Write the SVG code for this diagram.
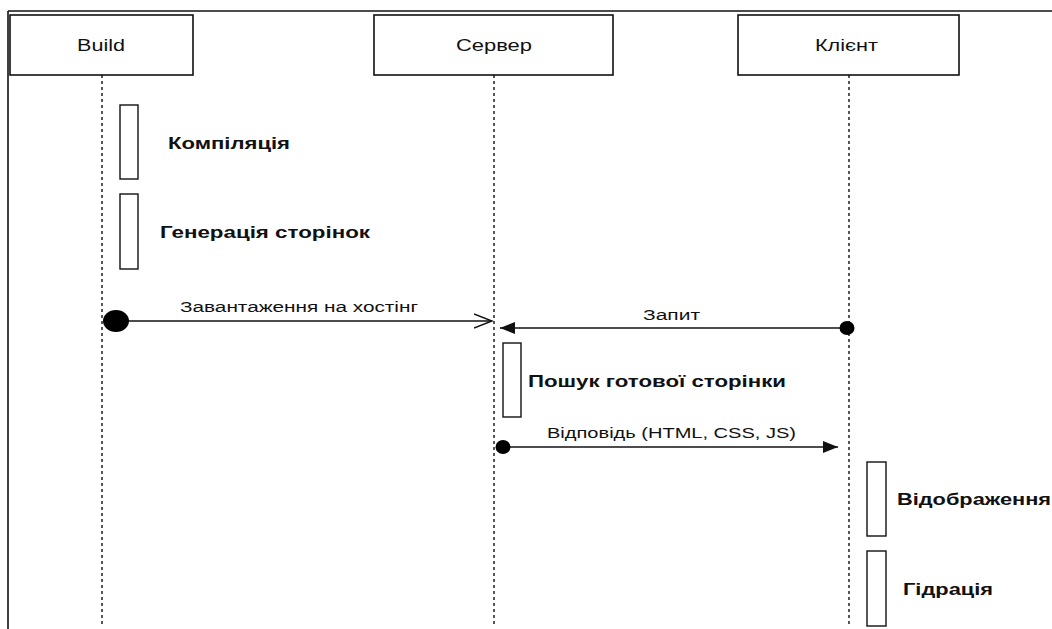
<svg xmlns="http://www.w3.org/2000/svg" width="1052" height="629" viewBox="0 0 1052 629">
<defs>
<style>
.frame{stroke:#111;stroke-width:1.6;fill:none}
.box{fill:#fff;stroke:#111;stroke-width:1.6}
.act{fill:#fff;stroke:#111;stroke-width:1.4}
.life{stroke:#111;stroke-width:1.4;stroke-dasharray:3 3;fill:none}
.msg{stroke:#111;stroke-width:1.4;fill:none}
.t{font-family:"Liberation Sans",Arial,sans-serif;font-size:17px;fill:#111}
.b{font-family:"Liberation Sans",Arial,sans-serif;font-size:17px;font-weight:bold;fill:#111}
.m{font-family:"Liberation Sans",Arial,sans-serif;font-size:15.5px;fill:#111}
</style>
<marker id="filled" markerWidth="16" markerHeight="12" refX="15" refY="6" orient="auto" markerUnits="userSpaceOnUse">
<path d="M0,0 L15,6 L0,12 Z" fill="#111"/>
</marker>
<marker id="open" markerWidth="20" markerHeight="16" refX="18" refY="8" orient="auto" markerUnits="userSpaceOnUse">
<path d="M0,1 L18,8 L0,15" fill="none" stroke="#111" stroke-width="1.4"/>
</marker>
</defs>
<rect width="1052" height="629" fill="#fff"/>
<g id="frame">
<line class="frame" x1="8" y1="11" x2="1052" y2="11"/>
<line class="frame" x1="8" y1="11" x2="8" y2="629" stroke-width="2"/>
</g>
<g id="lifelines">
<line class="life" x1="102" y1="75" x2="102" y2="624"/>
<line class="life" x1="494" y1="75" x2="494" y2="624"/>
<line class="life" x1="849" y1="75" x2="849" y2="624"/>
</g>
<g id="build">
<rect class="box" x="10" y="15" width="183" height="60"/>
<text class="t" x="77" y="51" textLength="48" lengthAdjust="spacingAndGlyphs">Build</text>
</g>
<g id="server">
<rect class="box" x="374" y="15" width="239" height="60"/>
<text class="t" x="456" y="51" textLength="76" lengthAdjust="spacingAndGlyphs">Сервер</text>
</g>
<g id="client">
<rect class="box" x="738" y="15" width="221" height="60"/>
<text class="t" x="815" y="51" textLength="63" lengthAdjust="spacingAndGlyphs">Клієнт</text>
</g>
<g id="compile">
<rect class="act" x="120" y="105" width="18" height="74"/>
<text class="b" x="168" y="149" textLength="122" lengthAdjust="spacingAndGlyphs">Компіляція</text>
</g>
<g id="generate">
<rect class="act" x="120" y="194" width="18" height="75"/>
<text class="b" x="160" y="238" textLength="210" lengthAdjust="spacingAndGlyphs">Генерація сторінок</text>
</g>
<g id="search">
<rect class="act" x="503" y="343" width="18" height="74"/>
<text class="b" x="528" y="387" textLength="258" lengthAdjust="spacingAndGlyphs">Пошук готової сторінки</text>
</g>
<g id="render">
<rect class="act" x="867" y="462" width="19" height="74"/>
<text class="b" x="897" y="505" textLength="154" lengthAdjust="spacingAndGlyphs">Відображення</text>
</g>
<g id="hydrate">
<rect class="act" x="867" y="551" width="19" height="75"/>
<text class="b" x="903" y="595" textLength="90" lengthAdjust="spacingAndGlyphs">Гідрація</text>
</g>
<g id="connectors">
<line class="msg" x1="116" y1="321" x2="492" y2="321" marker-end="url(#open)"/>
<ellipse cx="116" cy="321" rx="13" ry="11" fill="#000"/>
<text class="m" x="180" y="312" textLength="238" lengthAdjust="spacingAndGlyphs">Завантаження на хостінг</text>
<line class="msg" x1="847" y1="328" x2="500" y2="328" marker-end="url(#filled)"/>
<ellipse cx="847" cy="328" rx="7.5" ry="7" fill="#000"/>
<text class="m" x="643" y="320" textLength="57" lengthAdjust="spacingAndGlyphs">Запит</text>
<line class="msg" x1="503" y1="447" x2="838" y2="447" marker-end="url(#filled)"/>
<ellipse cx="503" cy="447" rx="7.5" ry="7" fill="#000"/>
<text class="m" x="547" y="438" textLength="249" lengthAdjust="spacingAndGlyphs">Відповідь (HTML, CSS, JS)</text>
</g>
</svg>
